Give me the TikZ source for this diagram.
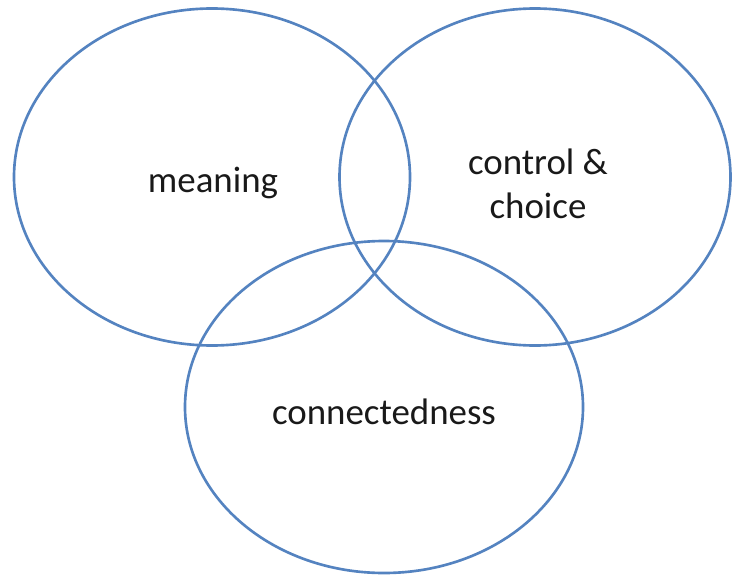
\documentclass[tikz,border=0pt]{standalone}
\usepackage{fontspec}
\setsansfont{Carlito}
\usepackage{xcolor}
\usetikzlibrary{shapes,positioning}

\definecolor{ringblue}{RGB}{84,131,192}

\begin{document}
\begin{tikzpicture}[x=0.02cm, y=-0.02cm, font=\sffamily\fontsize{21}{25}\selectfont,
    ring/.style={draw=ringblue, line width=1.5pt, ellipse, inner sep=0pt},
    word/.style={black!90, align=center}]
        \useasboundingbox (0,0) rectangle (733,578);
        % the three circles
        \foreach \name/\x/\y/\w/\h in {meaning/212/177/396/337,control/535/177/391/337,connected/384/407/398/332}{\node[ring, minimum width=\w*0.02cm, minimum height=\h*0.02cm] (\name) at (\x,\y) {};}
        % their labels
        \node[word] (tmeaning) at (213,183) {meaning};
        \node[word] (tcontrol) at (538,184) {control \&\\choice};
        \node[word] (tconnected) at (384,412) {connectedness};
    \end{tikzpicture}
\end{document}
